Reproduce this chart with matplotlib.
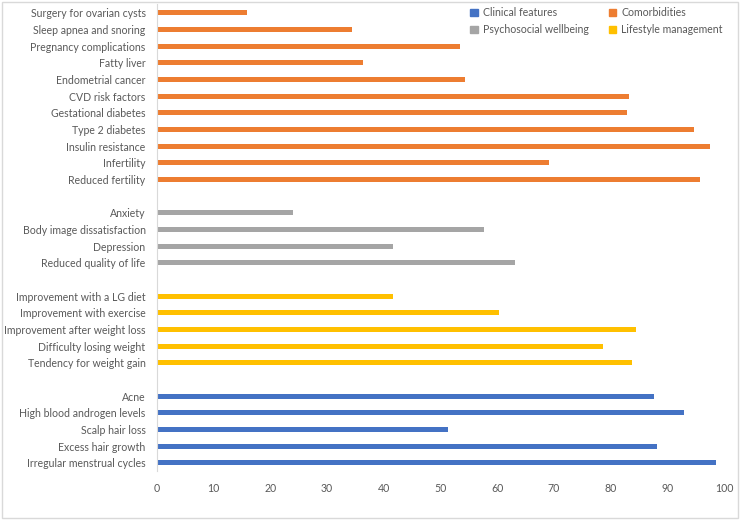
import matplotlib
matplotlib.use("Agg")
import matplotlib.pyplot as plt
from matplotlib.patches import Patch, Rectangle

plt.rcParams['font.family'] = ['Lato', 'DejaVu Sans']

# groups listed from bottom to top of the chart
clinical_labels = ['Irregular menstrual cycles', 'Excess hair growth', 'Scalp hair loss',
                   'High blood androgen levels', 'Acne']
clinical_values = [98.6, 88.2, 51.4, 92.9, 87.6]

lifestyle_labels = ['Tendency for weight gain', 'Difficulty losing weight',
                    'Improvement after weight loss', 'Improvement with exercise',
                    'Improvement with a LG diet']
lifestyle_values = [83.7, 78.7, 84.5, 60.3, 41.7]

psycho_labels = ['Reduced quality of life', 'Depression', 'Body image dissatisfaction', 'Anxiety']
psycho_values = [63.2, 41.7, 57.7, 24.1]

comorb_labels = ['Reduced fertility', 'Infertility', 'Insulin resistance', 'Type 2 diabetes',
                 'Gestational diabetes', 'CVD risk factors', 'Endometrial cancer', 'Fatty liver',
                 'Pregnancy complications', 'Sleep apnea and snoring', 'Surgery for ovarian cysts']
comorb_values = [95.8, 69.1, 97.6, 94.7, 82.9, 83.2, 54.4, 36.4, 53.5, 34.4, 16.0]

x_ticks = [0, 10, 20, 30, 40, 50, 60, 70, 80, 90, 100]

colors = {'Clinical features': '#4472C4', 'Comorbidities': '#ED7D31',
          'Psychosocial wellbeing': '#A5A5A5', 'Lifestyle management': '#FFC000'}
text_color = '#595959'
fs = 7.6

groups = [('Clinical features', clinical_labels, clinical_values),
          ('Lifestyle management', lifestyle_labels, lifestyle_values),
          ('Psychosocial wellbeing', psycho_labels, psycho_values),
          ('Comorbidities', comorb_labels, comorb_values)]

fig = plt.figure(figsize=(7.4, 5.2), dpi=100)
ax = fig.add_axes([156.7 / 740, 1 - 471 / 520, (724 - 156.7) / 740, (471 - 4.4) / 520])

# stack groups with one empty row between them
pos = 0
tick_pos = []
tick_lab = []
for name, labels, values in groups:
    ys = list(range(pos, pos + len(labels)))
    ax.barh(ys, values, height=0.3, color=colors[name])
    tick_pos += ys
    tick_lab += labels
    pos += len(labels) + 1

ax.set_ylim(-0.5, pos - 1.5)
ax.set_xlim(0, 100)
ax.set_xticks(x_ticks)
ax.set_yticks(tick_pos)
ax.set_yticklabels(tick_lab)
ax.tick_params(axis='both', length=0, labelsize=fs, colors=text_color)
ax.tick_params(axis='y', pad=8)
ax.tick_params(axis='x', pad=9)

for s in ['top', 'right', 'bottom']:
    ax.spines[s].set_visible(False)
ax.spines['left'].set_color('#D9D9D9')

leg_labels = ['Clinical features', 'Psychosocial wellbeing', 'Comorbidities', 'Lifestyle management']
handles = [Patch(color=colors[k]) for k in leg_labels]
fig.legend(handles, leg_labels, ncol=2, frameon=False, fontsize=fs,
           loc='upper left', bbox_to_anchor=(466 / 740, 1 - 3 / 520),
           handlelength=0.7, handleheight=0.7, handletextpad=0.5,
           columnspacing=1.9, labelspacing=0.55, labelcolor=text_color,
           borderaxespad=0)

fig.patches.append(Rectangle((0.003, 0.004), 0.994, 0.992, transform=fig.transFigure,
                             fill=False, edgecolor='#D9D9D9', linewidth=1))

fig.savefig('out.png', dpi=100)
